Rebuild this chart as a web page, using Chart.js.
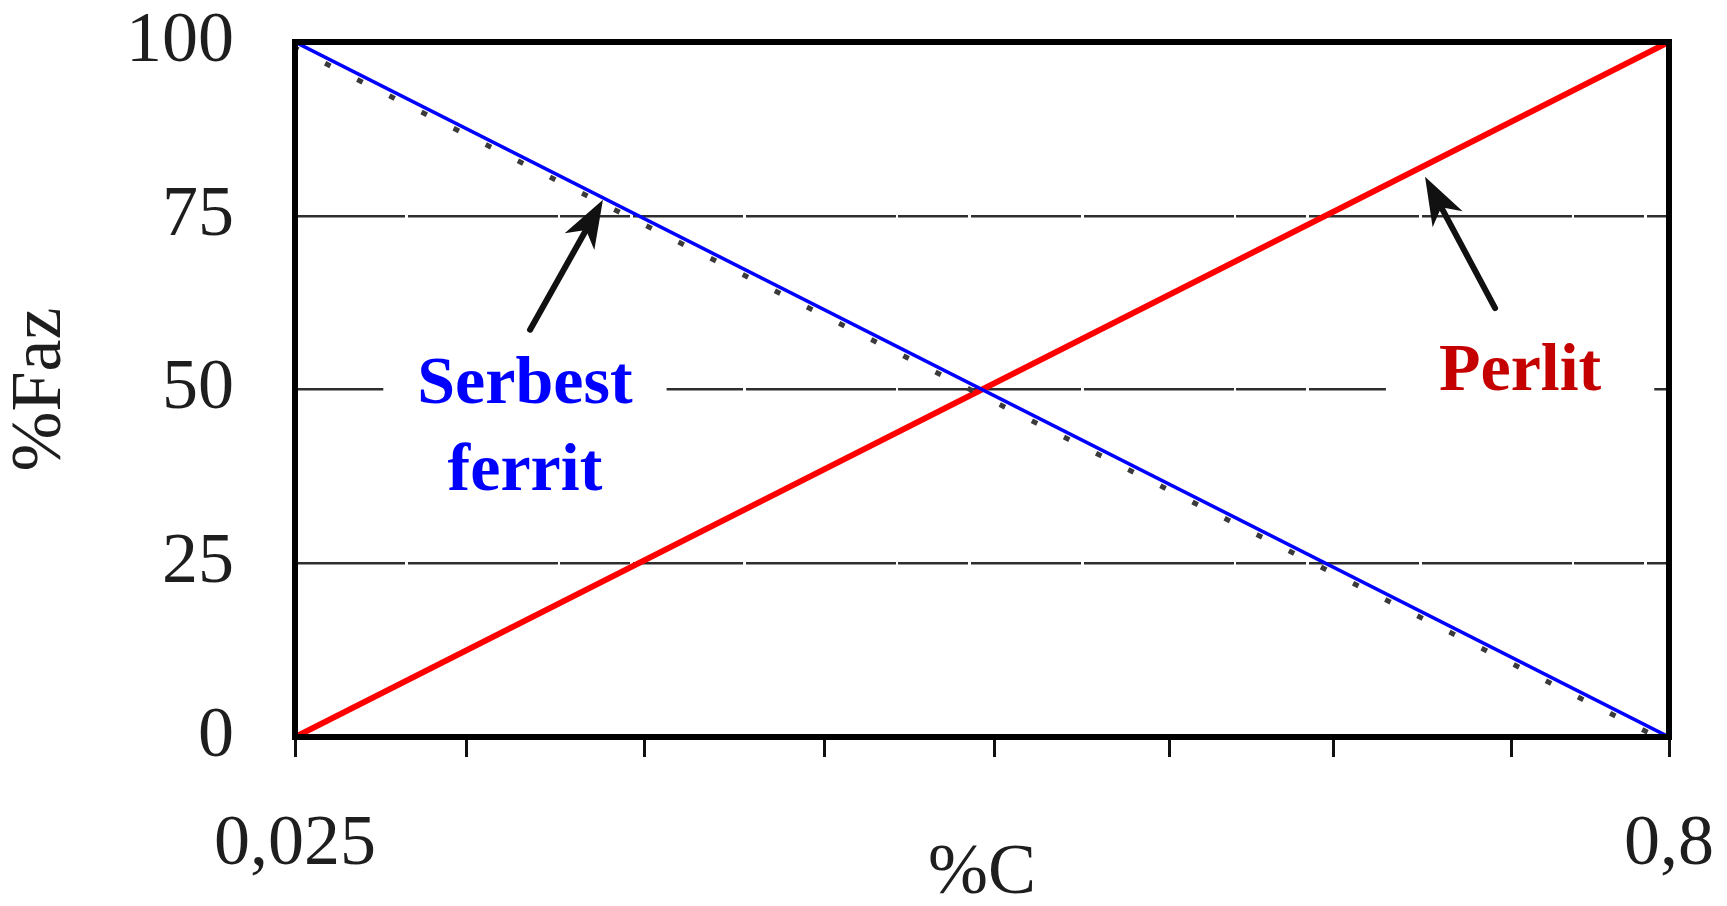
<!DOCTYPE html>
<html>
<head>
<meta charset="utf-8">
<title>%Faz – %C</title>
<script src="https://cdn.jsdelivr.net/npm/chart.js@4/dist/chart.umd.min.js"></script>
<style>
  html, body { margin: 0; padding: 0; background: #ffffff; overflow: hidden; }
  #wrap { width: 1727px; height: 906px; position: relative; }
</style>
</head>
<body>
<div id="wrap"><canvas id="c"></canvas></div>
<script>
// Carbon content (%C) at both ends of the range
const carbon = [0.025, 0.8];
// Phase fractions (%) at those carbon contents
const ferritePct = [100, 0];
const pearlitePct = [0, 100];

// Tick marks on the %C axis and their labels
const xTickMarks = [0.025, 0.1215, 0.2224, 0.3234, 0.4198, 0.5185, 0.6105, 0.7114, 0.8];
const xTickLabels = ['0,025', '', '', '', '', '', '', '', '0,8'];
const yTicks = [0, 25, 50, 75, 100];

// Phase names and the arrows pointing at their lines (data coordinates)
const noteLines = [['Serbest', 'ferrit'], ['Perlit']];
const noteX = [0.1547, 0.716];
const noteY = [48.1, 50];
const arrowFromX = [0.1576, 0.7019];
const arrowFromY = [58.6, 61.7];
const arrowToX = [0.1987, 0.6624];
const arrowToY = [77.3, 80.6];

// Styling for the phase names
const noteColors = ['#0000ff', '#c40000'];
const notePad = [34, 53];

const serif = "'Liberation Serif', 'Times New Roman', serif";

// Draws a dataset with a small pixel shift (used for the dotted trace under the ferrite line)
const shiftedDraw = {
  id: 'shiftedDraw',
  beforeDatasetDraw(chart, args) {
    const s = chart.data.datasets[args.index].drawShift;
    if (s) { chart.ctx.save(); chart.ctx.translate(s[0], s[1]); }
  },
  afterDatasetDraw(chart, args) {
    if (chart.data.datasets[args.index].drawShift) chart.ctx.restore();
  }
};

function drawArrow(ctx, x0, y0, x1, y1) {
  const a = Math.atan2(y1 - y0, x1 - x0);
  const c = Math.cos(a), s = Math.sin(a);
  const headLen = 48, headHalf = 17;
  const bx = x1 - headLen * c, by = y1 - headLen * s;
  const nx = x1 - headLen * 0.72 * c, ny = y1 - headLen * 0.72 * s;
  ctx.strokeStyle = '#111';
  ctx.fillStyle = '#111';
  ctx.lineWidth = 6;
  ctx.lineCap = 'round';
  ctx.beginPath();
  ctx.moveTo(x0, y0);
  ctx.lineTo(nx, ny);
  ctx.stroke();
  ctx.beginPath();
  ctx.moveTo(x1, y1);
  ctx.lineTo(bx - headHalf * s, by + headHalf * c);
  ctx.lineTo(nx, ny);
  ctx.lineTo(bx + headHalf * s, by - headHalf * c);
  ctx.closePath();
  ctx.fill();
}

// Phase names on white boxes, arrows and the heavy frame around the plot
const phaseNotes = {
  id: 'phaseNotes',
  beforeDatasetsDraw(chart) {
    const { ctx, scales: { x, y } } = chart;
    ctx.save();
    ctx.font = 'bold 68px ' + serif;
    ctx.textAlign = 'center';
    ctx.textBaseline = 'alphabetic';
    const lh = 87;
    noteLines.forEach((lines, i) => {
      const px = x.getPixelForValue(noteX[i]);
      const py = y.getPixelForValue(noteY[i]);
      const w = Math.max(...lines.map(t => ctx.measureText(t).width));
      ctx.fillStyle = '#ffffff';
      ctx.fillRect(px - w / 2 - notePad[i], py - 58, w + 2 * notePad[i], lh * (lines.length - 1) + 78);
      ctx.fillStyle = noteColors[i];
      lines.forEach((t, k) => ctx.fillText(t, px, py + k * lh));
    });
    ctx.restore();
  },
  afterDatasetsDraw(chart) {
    const { ctx, chartArea: a, scales: { x, y } } = chart;
    ctx.save();
    arrowFromX.forEach((_, i) => {
      drawArrow(ctx,
        x.getPixelForValue(arrowFromX[i]), y.getPixelForValue(arrowFromY[i]),
        x.getPixelForValue(arrowToX[i]), y.getPixelForValue(arrowToY[i]));
    });
    ctx.strokeStyle = '#000';
    ctx.lineWidth = 6;
    ctx.lineJoin = 'miter';
    ctx.strokeRect(a.left, a.top, a.right - a.left, a.bottom - a.top);
    ctx.restore();
  }
};

const pts = vals => carbon.map((c, i) => ({ x: c, y: vals[i] }));

new Chart(document.getElementById('c'), {
  type: 'line',
  data: {
    datasets: [
      {
        label: 'Serbest ferrit (iz)',
        data: pts(ferritePct),
        borderColor: '#3a3a3a',
        borderWidth: 5,
        borderDash: [6, 30],
        pointRadius: 0,
        drawShift: [-2, 5]
      },
      {
        label: 'Serbest ferrit',
        data: pts(ferritePct),
        borderColor: '#0000ff',
        borderWidth: 3.5,
        pointRadius: 0
      },
      {
        label: 'Perlit',
        data: pts(pearlitePct),
        borderColor: '#ff0000',
        borderWidth: 6,
        pointRadius: 0
      }
    ]
  },
  options: {
    responsive: true,
    maintainAspectRatio: false,
    animation: false,
    layout: { padding: { top: 42, right: 58, bottom: 0, left: 0 } },
    plugins: { legend: { display: false }, tooltip: { enabled: false } },
    scales: {
      x: {
        type: 'linear',
        min: carbon[0],
        max: carbon[carbon.length - 1],
        afterBuildTicks: s => { s.ticks = xTickMarks.map(v => ({ value: v })); },
        afterFit: s => { s.height = 169; s.paddingLeft = 0; s.paddingRight = 0; },
        grid: { drawOnChartArea: false, drawTicks: true, tickLength: 20, tickWidth: 3, tickColor: '#111' },
        border: { display: false },
        ticks: {
          autoSkip: false,
          maxRotation: 0,
          padding: 52,
          color: '#1e1e1e',
          font: { family: serif, size: 72, lineHeight: 1 },
          callback: (v, i) => xTickLabels[i]
        },
        title: {
          display: true,
          text: '%C',
          color: '#1e1e1e',
          font: { family: serif, size: 72, lineHeight: 0.9 },
          padding: { top: 0, bottom: 0 }
        }
      },
      y: {
        min: 0,
        max: 100,
        afterBuildTicks: s => { s.ticks = yTicks.map(v => ({ value: v })); },
        afterFit: s => { s.width = 295; s.paddingTop = 0; s.paddingBottom = 0; },
        grid: { color: '#2e2e2e', lineWidth: 2.5, drawTicks: false, borderDash: [110, 3, 150, 2, 70, 3] },
        border: { display: false, dash: [110, 3, 150, 2, 70, 3] },
        ticks: {
          padding: 61,
          color: '#1e1e1e',
          font: { family: serif, size: 72, lineHeight: 1 },
          callback: v => String(v)
        },
        title: {
          display: true,
          text: '%Faz',
          color: '#1e1e1e',
          font: { family: serif, size: 72, lineHeight: 1 },
          padding: { top: 5, bottom: 0 }
        }
      }
    }
  },
  plugins: [shiftedDraw, phaseNotes]
});
</script>
</body>
</html>
